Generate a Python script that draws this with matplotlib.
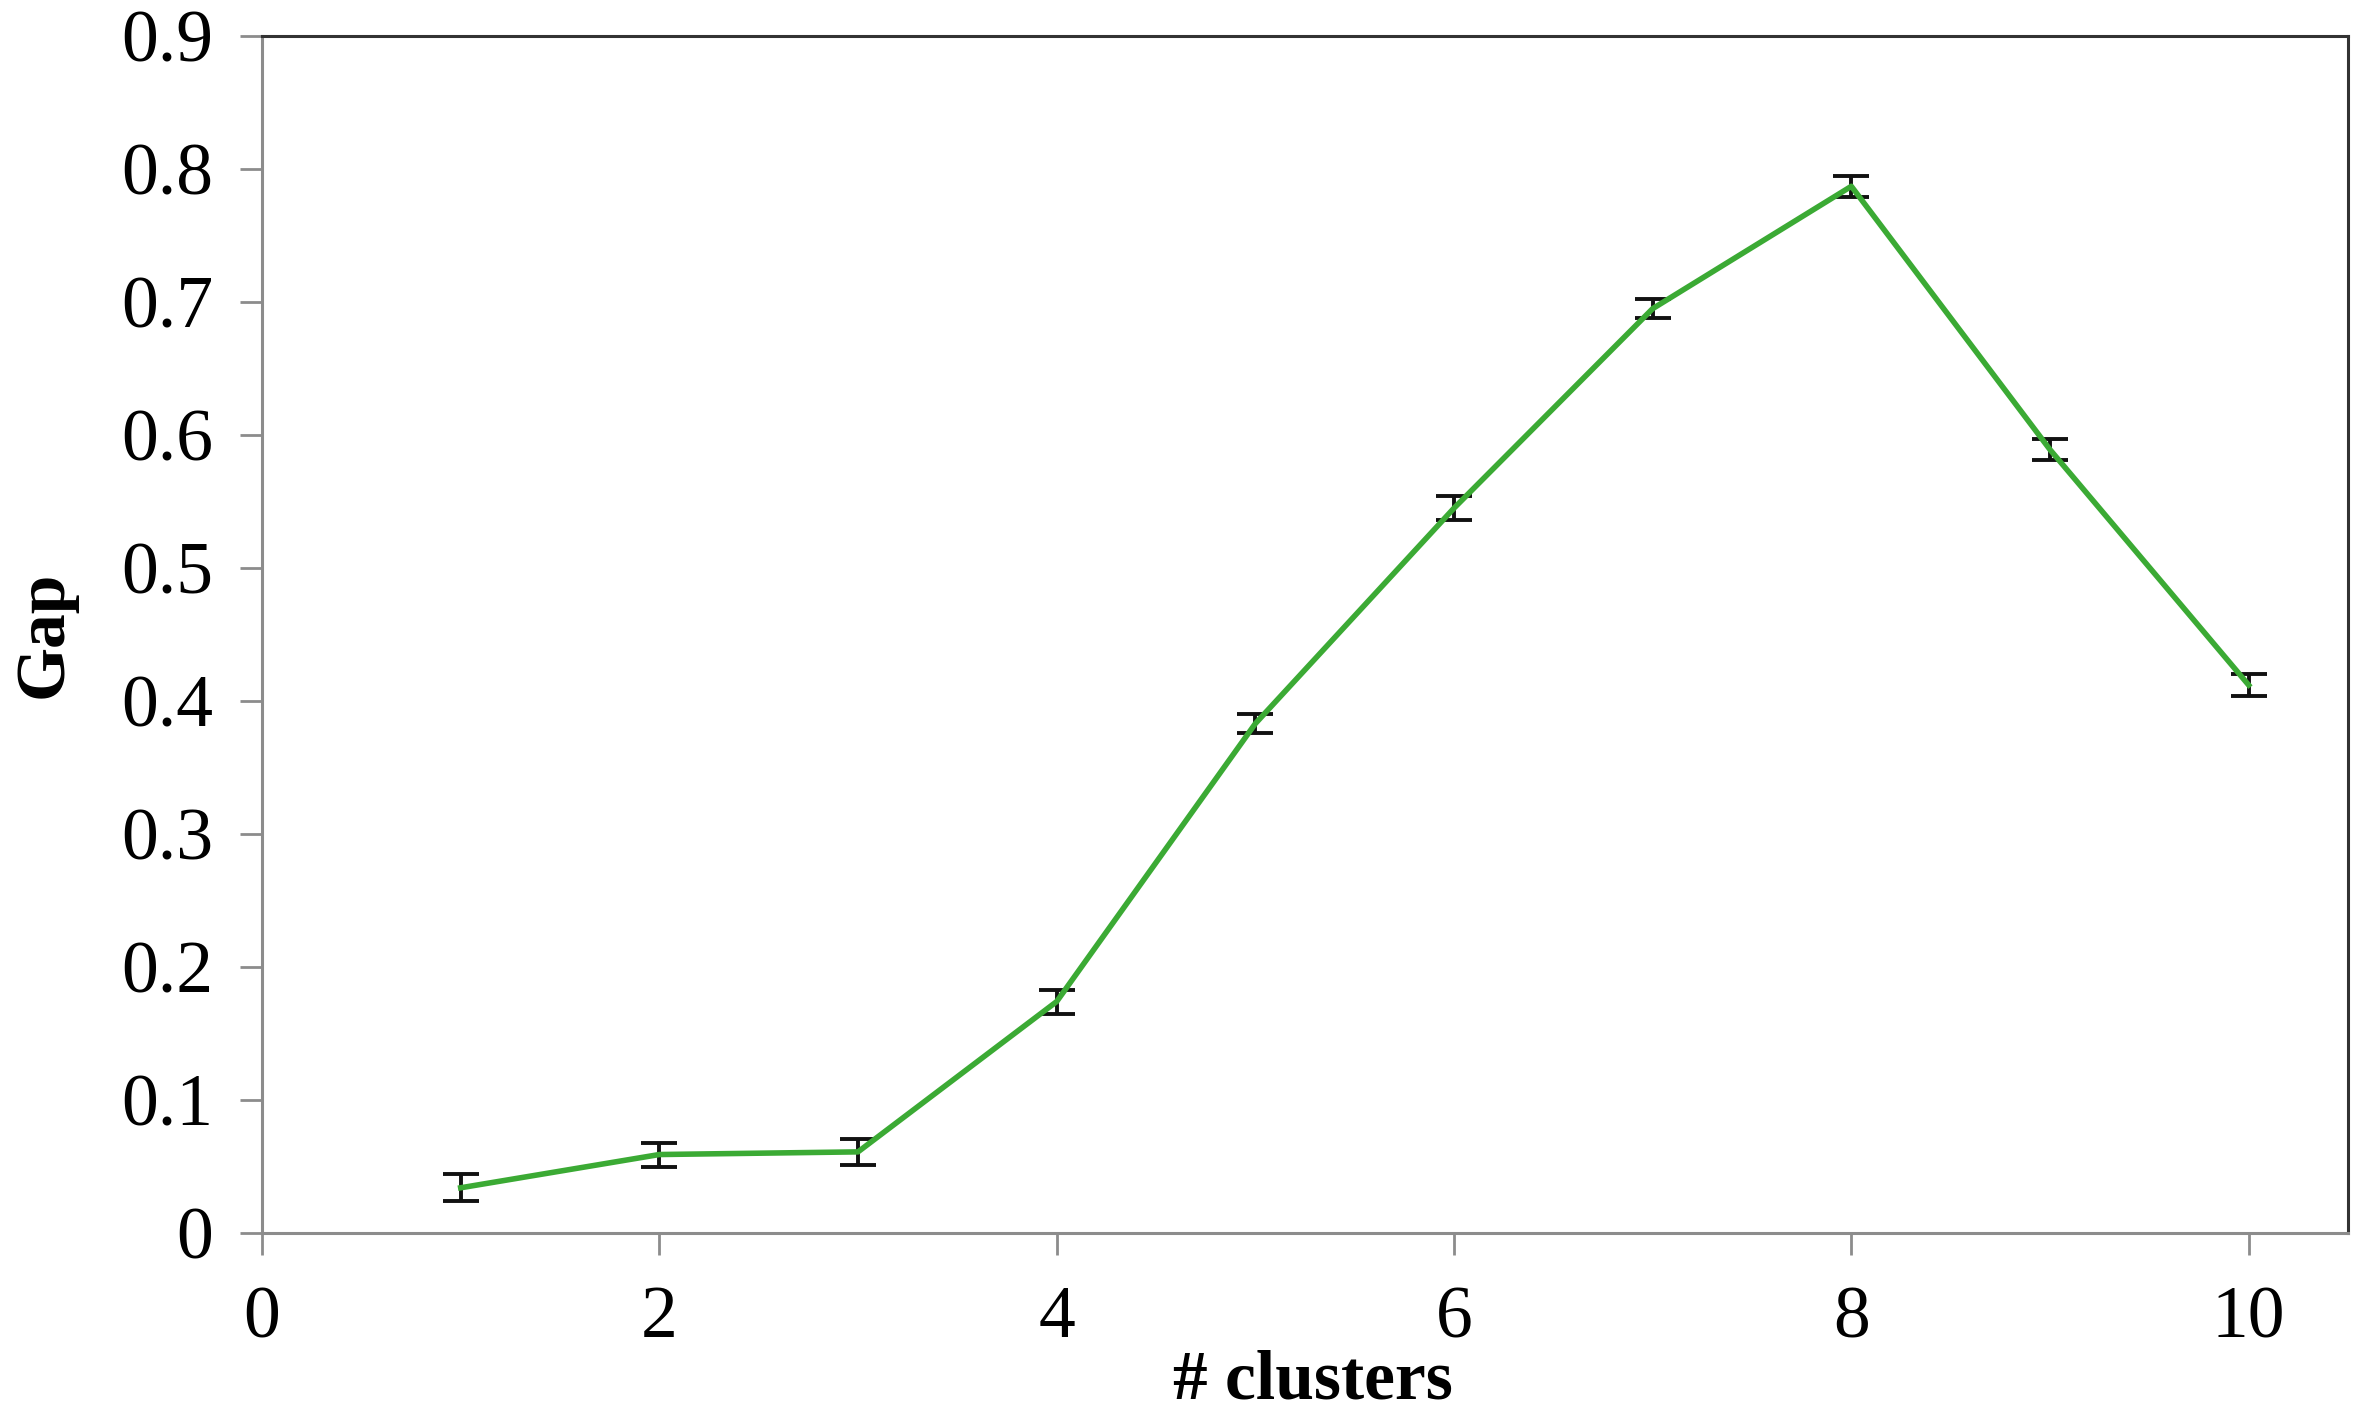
import numpy as np
import matplotlib
matplotlib.use("Agg")
import matplotlib.pyplot as plt

clusters = [1, 2, 3, 4, 5, 6, 7, 8, 9, 10]
gap = [0.034, 0.059, 0.061, 0.174, 0.383, 0.545, 0.695, 0.787, 0.589, 0.412]
gap_err = [0.010, 0.009, 0.010, 0.009, 0.007, 0.009, 0.007, 0.008, 0.008, 0.008]

plt.rcParams['font.family'] = ['Liberation Serif', 'DejaVu Serif']

fig = plt.figure(figsize=(23.6, 14.18), dpi=100)
ax = fig.add_axes([262 / 2360, 1 - 1233 / 1418, (2348 - 262) / 2360, (1233 - 36) / 1418])

ax.errorbar(clusters, gap, yerr=gap_err, color='#3BAA34', linewidth=4,
            ecolor='#111111', elinewidth=2.8, capsize=13, capthick=2.8, zorder=3)

ax.set_xlim(0, 10.5)
ax.set_ylim(0, 0.9)
ax.set_xticks([0, 2, 4, 6, 8, 10])
ax.set_yticks(np.arange(0, 0.91, 0.1))
ax.set_yticklabels(['0', '0.1', '0.2', '0.3', '0.4', '0.5', '0.6', '0.7', '0.8', '0.9'])

for s in ['left', 'bottom']:
    ax.spines[s].set_color('#8c8c8c')
    ax.spines[s].set_linewidth(2.2)
for s in ['top', 'right']:
    ax.spines[s].set_color('#333333')
    ax.spines[s].set_linewidth(2.2)

ax.tick_params(axis='both', direction='out', length=16, width=2, color='#8c8c8c',
               labelsize=53)
ax.tick_params(axis='x', pad=22)
ax.tick_params(axis='y', pad=19)

ax.set_xlabel('# clusters', fontsize=50, fontweight='bold')
ax.xaxis.set_label_coords(0.504, -0.097)
ax.set_ylabel('Gap', fontsize=50, fontweight='bold', labelpad=32)

fig.savefig('out.png', dpi=100, facecolor='white')
